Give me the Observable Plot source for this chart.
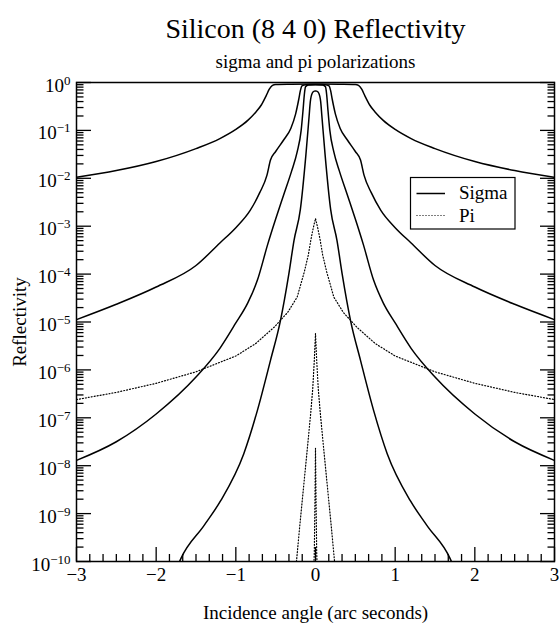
<!DOCTYPE html>
<html><head><meta charset="utf-8">
<script src="https://cdn.jsdelivr.net/npm/d3@7"></script>
<script src="https://cdn.jsdelivr.net/npm/@observablehq/plot@0.6"></script>
<style>
html,body{margin:0;padding:0;background:#fff;}
#chart{width:559px;height:625px;}
</style></head>
<body><div id="chart"></div>
<script>
// ---- data ----
const titleText = "Silicon (8 4 0) Reflectivity";
const subtitleText = "sigma and pi polarizations";
const xLabel = "Incidence angle (arc seconds)";
const yLabel = "Reflectivity";
const legendLabels = ["Sigma", "Pi"];

const xMajorTicks = [-3, -2, -1, 0, 1, 2, 3];
const yMajorTicks = [1e-10, 1e-9, 1e-8, 1e-7, 1e-6, 1e-5, 1e-4, 1e-3, 1e-2, 1e-1, 1];

const sigma1Angle = [-3, -2.5, -2, -1.5, -1.2, -1, -0.85, -0.75, -0.68, -0.62, -0.58, -0.54, -0.5, -0.3, 0, 0.3, 0.5, 0.54, 0.58, 0.62, 0.68, 0.75, 0.85, 1, 1.2, 1.5, 2, 2.5, 3];
const sigma1R = [0.0105, 0.0145, 0.0224, 0.0417, 0.0676, 0.105, 0.162, 0.240, 0.339, 0.525, 0.724, 0.871, 0.912, 0.923, 0.933, 0.923, 0.912, 0.871, 0.724, 0.525, 0.339, 0.240, 0.162, 0.105, 0.0676, 0.0417, 0.0224, 0.0145, 0.0105];

const sigma2Angle = [-3, -2.5, -2, -1.5, -1.2, -1, -0.82, -0.7, -0.61, -0.565, -0.5, -0.4, -0.31, -0.25, -0.21, -0.19, -0.17, -0.12, 0, 0.12, 0.17, 0.19, 0.21, 0.25, 0.31, 0.4, 0.5, 0.565, 0.61, 0.7, 0.82, 1, 1.2, 1.5, 2, 2.5, 3];
const sigma2R = [1.12e-5, 2.34e-5, 5.37e-5, 1.51e-4, 4.47e-4, 9.33e-4, 2.14e-3, 5.01e-3, 1.15e-2, 2.40e-2, 3.63e-2, 6.31e-2, 0.110, 0.219, 0.447, 0.676, 0.851, 0.902, 0.912, 0.902, 0.851, 0.676, 0.447, 0.219, 0.110, 6.31e-2, 3.63e-2, 2.40e-2, 1.15e-2, 5.01e-3, 2.14e-3, 9.33e-4, 4.47e-4, 1.51e-4, 5.37e-5, 2.34e-5, 1.12e-5];

const sigma3Angle = [-3, -2.5, -2, -1.5, -1.2, -1, -0.85, -0.73, -0.6, -0.5, -0.4, -0.3, -0.23, -0.18, -0.155, -0.14, -0.125, -0.09, 0, 0.09, 0.125, 0.14, 0.155, 0.18, 0.23, 0.3, 0.4, 0.5, 0.6, 0.73, 0.85, 1, 1.2, 1.5, 2, 2.5, 3];
const sigma3R = [1.29e-8, 3.16e-8, 1.20e-7, 7.08e-7, 2.82e-6, 9.55e-6, 2.51e-5, 7.41e-5, 4.17e-4, 1.41e-3, 4.47e-3, 1.41e-2, 3.55e-2, 0.100, 0.282, 0.562, 0.813, 0.891, 0.902, 0.891, 0.813, 0.562, 0.282, 0.100, 3.55e-2, 1.41e-2, 4.47e-3, 1.41e-3, 4.17e-4, 7.41e-5, 2.51e-5, 9.55e-6, 2.82e-6, 7.08e-7, 1.20e-7, 3.16e-8, 1.29e-8];

const sigma4Angle = [-1.8, -1.69, -1.4, -1.19, -0.9, -0.73, -0.565, -0.44, -0.335, -0.27, -0.19, -0.12, -0.08, -0.065, -0.04, -0.015, 0, 0.015, 0.04, 0.065, 0.08, 0.12, 0.19, 0.27, 0.335, 0.44, 0.565, 0.73, 0.9, 1.19, 1.4, 1.69, 1.8];
const sigma4R = [3.98e-11, 1.15e-10, 5.62e-10, 1.86e-9, 1.78e-8, 1.41e-7, 1.58e-6, 1.07e-5, 1.0e-4, 5.01e-4, 2.24e-3, 3.16e-2, 0.200, 0.398, 0.603, 0.661, 0.668, 0.661, 0.603, 0.398, 0.200, 3.16e-2, 2.24e-3, 5.01e-4, 1.0e-4, 1.07e-5, 1.58e-6, 1.41e-7, 1.78e-8, 1.86e-9, 5.62e-10, 1.15e-10, 3.98e-11];

const pi1Angle = [-3, -2.5, -2, -1.5, -1, -0.75, -0.52, -0.35, -0.23, -0.14, -0.09, -0.06, -0.03, 0, 0.03, 0.06, 0.09, 0.14, 0.23, 0.35, 0.52, 0.75, 1, 1.5, 2, 2.5, 3];
const pi1R = [2.40e-7, 3.39e-7, 5.25e-7, 9.12e-7, 1.95e-6, 3.55e-6, 7.76e-6, 1.58e-5, 3.31e-5, 1.12e-4, 2.51e-4, 5.01e-4, 8.91e-4, 1.45e-3, 8.91e-4, 5.01e-4, 2.51e-4, 1.12e-4, 3.31e-5, 1.58e-5, 7.76e-6, 3.55e-6, 1.95e-6, 9.12e-7, 5.25e-7, 3.39e-7, 2.40e-7];

const pi2Angle = [-0.3, -0.25, -0.2, -0.15, -0.1, -0.06, -0.035, -0.015, 0, 0.015, 0.035, 0.06, 0.1, 0.15, 0.2, 0.25, 0.3];
const pi2R = [1.0e-11, 6.31e-11, 5.01e-10, 3.55e-9, 2.51e-8, 1.26e-7, 3.98e-7, 1.58e-6, 5.75e-6, 1.58e-6, 3.98e-7, 1.26e-7, 2.51e-8, 3.55e-9, 5.01e-10, 6.31e-11, 1.0e-11];

const pi3Angle = [-0.03, -0.015, -0.007, 0, 0.007, 0.015, 0.03];
const pi3R = [2.5e-11, 1.58e-10, 1.58e-9, 2.29e-8, 1.58e-9, 1.58e-10, 2.5e-11];

// ---- build tables ----
function rows(name, ang, r) { return ang.map((a, i) => ({series: name, angle: a, r: r[i]})); }
const sigmaRows = [].concat(
  rows("s1", sigma1Angle, sigma1R), rows("s2", sigma2Angle, sigma2R),
  rows("s3", sigma3Angle, sigma3R), rows("s4", sigma4Angle, sigma4R));
const piRows = [].concat(rows("p1", pi1Angle, pi1R), rows("p2", pi2Angle, pi2R), rows("p3", pi3Angle, pi3R));

const xMinorTicks = [];
for (let k = -3; k < 3; k++) for (let j = 1; j < 6; j++) xMinorTicks.push(k + j / 6);
const yMinorTicks = [];
for (let e = -10; e < 0; e++) for (let m = 2; m < 10; m++) yMinorTicks.push(m * Math.pow(10, e));

const supMap = {"-": "\u207B", "0": "\u2070", "1": "\u00B9", "2": "\u00B2", "3": "\u00B3", "4": "\u2074", "5": "\u2075", "6": "\u2076", "7": "\u2077", "8": "\u2078", "9": "\u2079"};
const invSup = Object.fromEntries(Object.entries(supMap).map(([k, v]) => [v, k]));
const yFmt = d => "10" + String(Math.round(Math.log10(d))).split("").map(c => supMap[c]).join("");
const xFmt = d => d < 0 ? "\u2212" + (-d) : String(d);
const blank = () => "";

const font = "'Liberation Serif','Times New Roman',serif";

const svg = Plot.plot({
  width: 559, height: 625,
  marginLeft: 76, marginRight: 5, marginTop: 82, marginBottom: 64,
  style: {fontFamily: font, background: "white", color: "black", overflow: "visible"},
  x: {domain: [-3, 3]},
  y: {type: "log", domain: [1e-10, 1]},
  marks: [
    Plot.line(sigmaRows, {x: "angle", y: "r", z: "series", stroke: "black", strokeWidth: 1.5, curve: "monotone-x", clip: true}),
    Plot.line(piRows, {x: "angle", y: "r", z: "series", stroke: "black", strokeWidth: 1.2, strokeDasharray: "1,2", curve: "linear", clip: true}),
    Plot.axisX(xMinorTicks, {anchor: "bottom", tickSize: -7, tickFormat: blank, label: null, strokeWidth: 1.3}),
    Plot.axisX(xMajorTicks, {anchor: "bottom", tickSize: -14, tickFormat: blank, label: null, strokeWidth: 1.3}),
    Plot.axisX(xMajorTicks, {anchor: "bottom", tickSize: 0, tickPadding: 6, tickFormat: xFmt, label: null, fontSize: 19, fontFamily: font}),
    Plot.axisY(yMinorTicks, {anchor: "left", tickSize: -7.5, tickFormat: blank, label: null, strokeWidth: 1.3}),
    Plot.axisY(yMajorTicks, {anchor: "left", tickSize: -15, tickFormat: blank, label: null, strokeWidth: 1.3}),
    Plot.axisY(yMinorTicks, {anchor: "right", tickSize: -7.5, tickFormat: blank, label: null, strokeWidth: 1.3}),
    Plot.axisY(yMajorTicks, {anchor: "right", tickSize: -15, tickFormat: blank, label: null, strokeWidth: 1.3}),
    Plot.axisY(yMajorTicks, {anchor: "left", tickSize: 0, tickPadding: 6, tickFormat: yFmt, label: null, fontSize: 19, fontFamily: font, dy: 3}),
    Plot.frame({stroke: "black", strokeWidth: 1.5}),
    Plot.text([titleText], {frameAnchor: "top", lineAnchor: "bottom", textAnchor: "middle", dy: -45, fontSize: 28, fontFamily: font}),
    Plot.text([subtitleText], {frameAnchor: "top", lineAnchor: "bottom", textAnchor: "middle", dy: -15, fontSize: 19, fontFamily: font}),
    Plot.text([xLabel], {frameAnchor: "bottom", lineAnchor: "bottom", textAnchor: "middle", dy: 57, fontSize: 19, fontFamily: font}),
    Plot.text([yLabel], {frameAnchor: "left", lineAnchor: "bottom", textAnchor: "middle", rotate: -90, dx: -51, fontSize: 19, fontFamily: font})
  ]
});
document.getElementById("chart").appendChild(svg);

// y tick labels: turn unicode superscripts into real raised tspans
svg.querySelectorAll('g[aria-label="y-axis tick label"] text').forEach(t => {
  const s = t.textContent;
  if (!s.startsWith("10")) return;
  const exp = s.slice(2).split("").map(c => invSup[c] || c).join("").replace("-", "\u2212");
  t.textContent = "10";
  const ts = document.createElementNS("http://www.w3.org/2000/svg", "tspan");
  ts.setAttribute("dy", "-7");
  ts.setAttribute("font-size", "13");
  ts.textContent = exp;
  t.appendChild(ts);
});

// legend box
const lg = d3.select(svg).append("g").attr("font-family", font).attr("font-size", 19).attr("text-anchor", "start");
lg.append("rect").attr("x", 410.5).attr("y", 177.5).attr("width", 104.5).attr("height", 51.5)
  .attr("fill", "white").attr("stroke", "black").attr("stroke-width", 1.2);
lg.append("line").attr("x1", 416.5).attr("x2", 445).attr("y1", 193.5).attr("y2", 193.5)
  .attr("stroke", "black").attr("stroke-width", 1.5);
lg.append("line").attr("x1", 416.5).attr("x2", 445).attr("y1", 215.5).attr("y2", 215.5)
  .attr("stroke", "black").attr("stroke-width", 1.2).attr("stroke-dasharray", "1,2");
lg.append("text").attr("x", 459).attr("y", 198.5).text(legendLabels[0]);
lg.append("text").attr("x", 459).attr("y", 221.5).text(legendLabels[1]);
</script>
</body></html>
